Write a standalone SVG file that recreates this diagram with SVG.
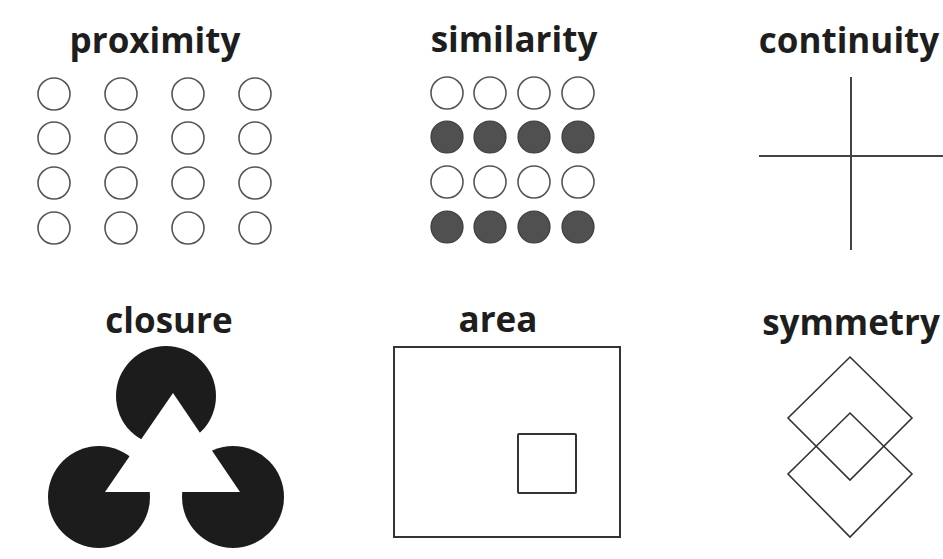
<svg xmlns="http://www.w3.org/2000/svg" width="943" height="559" viewBox="0 0 943 559">
<style>
.t{font-family:"Open Sans",Lato,"Liberation Sans",sans-serif;font-weight:bold;font-size:35px;fill:#1e1e1e;text-anchor:middle}
.o{fill:#fff;stroke:#555;stroke-width:1.6}
.f{fill:#505050;stroke:#3a3a3a;stroke-width:1.2}
.ln{stroke:#444;stroke-width:2;fill:none}
.bx{fill:none;stroke:#333;stroke-width:2}
.dm{fill:none;stroke:#333;stroke-width:1.6}
</style>
<defs>
<circle id="c" r="16"/>
</defs>
<rect width="943" height="559" fill="#fff"/>
<g id="proximity">
<text class="t" x="155" y="53">proximity</text>
<g class="o">
<use href="#c" x="54" y="94"/><use href="#c" x="121" y="94"/><use href="#c" x="188" y="94"/><use href="#c" x="255" y="94"/>
<use href="#c" x="54" y="138"/><use href="#c" x="121" y="138"/><use href="#c" x="188" y="138"/><use href="#c" x="255" y="138"/>
<use href="#c" x="54" y="183"/><use href="#c" x="121" y="183"/><use href="#c" x="188" y="183"/><use href="#c" x="255" y="183"/>
<use href="#c" x="54" y="228"/><use href="#c" x="121" y="228"/><use href="#c" x="188" y="228"/><use href="#c" x="255" y="228"/>
</g>
</g>
<g id="similarity">
<text class="t" x="514" y="52">similarity</text>
<g class="o">
<use href="#c" x="447" y="93"/><use href="#c" x="490" y="93"/><use href="#c" x="534" y="93"/><use href="#c" x="578" y="93"/>
<use href="#c" x="447" y="182"/><use href="#c" x="490" y="182"/><use href="#c" x="534" y="182"/><use href="#c" x="578" y="182"/>
</g>
<g class="f">
<use href="#c" x="447" y="137"/><use href="#c" x="490" y="137"/><use href="#c" x="534" y="137"/><use href="#c" x="578" y="137"/>
<use href="#c" x="447" y="227"/><use href="#c" x="490" y="227"/><use href="#c" x="534" y="227"/><use href="#c" x="578" y="227"/>
</g>
</g>
<g id="continuity">
<text class="t" x="849" y="53">continuity</text>
<line class="ln" x1="851" y1="77" x2="851" y2="250"/>
<line class="ln" x1="759" y1="156" x2="943" y2="156"/>
</g>
<g id="closure">
<text class="t" x="169" y="333">closure</text>
<g fill="#1c1c1c">
<circle cx="166" cy="396" r="50"/>
<circle cx="99" cy="497" r="51"/>
<circle cx="233" cy="497" r="51"/>
</g>
<polygon points="173,393 105,492 240,492" fill="#fff"/>
</g>
<g id="area">
<text class="t" x="498" y="332">area</text>
<rect class="bx" x="394" y="347" width="226" height="190"/>
<rect class="bx" x="518" y="434" width="58" height="59" rx="1"/>
</g>
<g id="symmetry">
<text class="t" x="851" y="335">symmetry</text>
<polygon class="dm" points="850,357 912,418 850,480 788,418"/>
<polygon class="dm" points="850,413 912,474 850,537 788,474"/>
</g>
</svg>
